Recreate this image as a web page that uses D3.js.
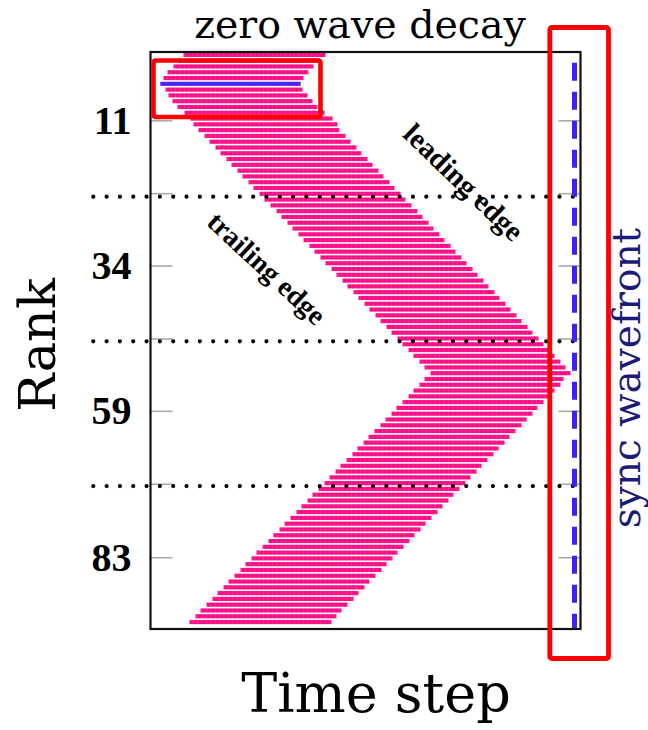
<!DOCTYPE html>
<html>
<head>
<meta charset="utf-8">
<script src="https://cdn.jsdelivr.net/npm/d3@7"></script>
<style>
  html, body { margin: 0; padding: 0; background: #ffffff; }
  svg { display: block; }
</style>
</head>
<body>
<svg id="chart" width="648" height="730"></svg>
<script>
// Per-rank wave interval (time steps), ranks 0..98
const waveStart = [
  33, 28, 23, 17, 13, 10, 15, 18, 22, 27,
  34, 40, 43, 48, 54, 59, 65, 70, 76, 81,
  87, 92, 98, 103, 109, 114, 120, 126, 131, 137,
  142, 148, 153, 159, 164, 170, 175, 181, 186, 192,
  197, 203, 208, 214, 219, 225, 230, 236, 241, 247,
  252, 258, 263, 269, 274, 280, 274, 269, 263, 258,
  252, 246, 241, 235, 230, 224, 218, 213, 207, 202,
  196, 190, 185, 179, 174, 168, 162, 157, 151, 146,
  140, 134, 129, 123, 118, 112, 106, 101, 95, 90,
  84, 78, 73, 67, 62, 56, 50, 45, 39
];
const waveEnd = [
  175, 169, 163, 158, 153, 150, 152, 157, 162, 167,
  174, 182, 187, 189, 195, 200, 206, 211, 217, 222,
  228, 233, 239, 244, 250, 255, 261, 267, 272, 278,
  283, 289, 294, 300, 305, 311, 316, 322, 327, 333,
  338, 344, 349, 355, 360, 366, 371, 377, 382, 388,
  393, 399, 404, 410, 415, 420, 413, 410, 404, 399,
  393, 387, 382, 376, 371, 365, 359, 354, 348, 343,
  337, 331, 326, 320, 315, 309, 303, 298, 292, 287,
  281, 275, 270, 264, 259, 253, 247, 242, 236, 231,
  225, 219, 214, 208, 203, 197, 191, 186, 181
];
const decayRank = 5;                       // rank whose wave does not decay
const groupBounds = [24.5, 49.5, 74.5];    // boundaries between rank groups
const minorTickRanks = [11.3, 23.9, 36.4, 49.0, 61.5, 74.1, 86.8];
const labelTickRanks = [11.3, 36.4, 61.5, 86.8];
const yTickLabels = ["11", "34", "59", "83"];
const syncStep = 424;                      // sync wavefront time step
const stepDomain = [0, 430];
const rankDomain = [-0.5, 99.2];

const svg = d3.select("#chart");

const plot = { left: 150.5, right: 580.5, top: 52, bottom: 629 };
const x = d3.scaleLinear().domain(stepDomain).range([plot.left, plot.right]);
const y = d3.scaleLinear().domain(rankDomain).range([plot.top, plot.bottom]);

const pink = "#ff0d86";
const barH = 4.2;

// faint vertical cell texture on the bars
const defs = svg.append("defs");
const pat = defs.append("pattern")
  .attr("id", "cells").attr("patternUnits", "userSpaceOnUse")
  .attr("width", 4.4).attr("height", 6);
pat.append("rect").attr("width", 4.4).attr("height", 6).attr("fill", pink);
pat.append("rect").attr("x", 3.7).attr("width", 0.7).attr("height", 6)
  .attr("fill", "#ffffff").attr("opacity", 0.16);

const ranks = d3.range(Math.min(waveStart.length, waveEnd.length));

svg.append("g").selectAll("rect")
  .data(ranks)
  .join("rect")
  .attr("x", r => x(waveStart[r]))
  .attr("y", r => y(r) - barH / 2)
  .attr("width", r => x(waveEnd[r]) - x(waveStart[r]))
  .attr("height", barH)
  .attr("fill", "url(#cells)");

// non-decaying wave rank
svg.append("rect")
  .attr("x", x(waveStart[decayRank]))
  .attr("y", y(decayRank) - 1.8)
  .attr("width", x(waveEnd[decayRank]) - x(waveStart[decayRank]))
  .attr("height", 3.6)
  .attr("fill", "#3b2bff");

// inner grey ticks, left and right
const gTickL = svg.append("g").attr("transform", `translate(${plot.left},0)`)
  .call(d3.axisRight(y).tickValues(minorTickRanks).tickSize(22).tickFormat(""));
const gTickR = svg.append("g").attr("transform", `translate(${plot.right},0)`)
  .call(d3.axisLeft(y).tickValues(minorTickRanks).tickSize(22).tickFormat(""));
[gTickL, gTickR].forEach(g => {
  g.select(".domain").remove();
  g.selectAll(".tick line").attr("stroke", "#aaaaaa").attr("stroke-width", 1.6);
});

// rank labels
const gLab = svg.append("g").attr("transform", `translate(${plot.left},0)`)
  .call(d3.axisLeft(y).tickValues(labelTickRanks).tickSize(0).tickPadding(19)
    .tickFormat((d, i) => yTickLabels[i]));
gLab.select(".domain").remove();
gLab.selectAll(".tick text")
  .attr("font-family", "'Liberation Serif', serif")
  .attr("font-weight", "bold")
  .attr("font-size", 40)
  .attr("fill", "#000");

// group boundaries (dotted)
svg.append("g").selectAll("line")
  .data(groupBounds)
  .join("line")
  .attr("x1", 93.3).attr("x2", 575)
  .attr("y1", d => y(d)).attr("y2", d => y(d))
  .attr("stroke", "#000")
  .attr("stroke-width", 4.2)
  .attr("stroke-linecap", "round")
  .attr("stroke-dasharray", "0 13.32");

// sync wavefront
svg.append("line")
  .attr("x1", x(syncStep)).attr("x2", x(syncStep))
  .attr("y1", plot.top).attr("y2", plot.bottom)
  .attr("stroke", "#3d1fff")
  .attr("stroke-width", 5)
  .attr("stroke-dasharray", "18 11")
  .attr("stroke-dashoffset", 18.3);

// frame
svg.append("rect")
  .attr("x", plot.left).attr("y", plot.top)
  .attr("width", plot.right - plot.left).attr("height", plot.bottom - plot.top)
  .attr("fill", "none").attr("stroke", "#111").attr("stroke-width", 2.2);

// edge labels
const edgeFont = "'Liberation Serif', serif";
svg.append("text")
  .attr("transform", "translate(464,182) rotate(44)")
  .attr("text-anchor", "middle").attr("dy", "0.35em")
  .attr("font-family", edgeFont).attr("font-weight", "bold").attr("font-size", 29)
  .text("leading edge");
svg.append("text")
  .attr("transform", "translate(267,268) rotate(43)")
  .attr("text-anchor", "middle").attr("dy", "0.35em")
  .attr("font-family", edgeFont).attr("font-weight", "bold").attr("font-size", 28)
  .text("trailing edge");

// highlight boxes
const red = "#ff0000";
svg.append("rect")
  .attr("x", 153.5).attr("y", 60.5).attr("width", 167).attr("height", 56.5)
  .attr("rx", 2).attr("fill", "none").attr("stroke", red).attr("stroke-width", 4.6);
svg.append("rect")
  .attr("x", 549.8).attr("y", 27.5).attr("width", 58.7).attr("height", 631)
  .attr("rx", 2).attr("fill", "none").attr("stroke", red).attr("stroke-width", 4.8);

// titles
const bigFont = "'DejaVu Serif', serif";
svg.append("text")
  .attr("x", 360).attr("y", 38).attr("text-anchor", "middle")
  .attr("font-family", bigFont).attr("font-size", 39.5).attr("fill", "#000")
  .text("zero wave decay");
svg.append("text")
  .attr("x", 376).attr("y", 712).attr("text-anchor", "middle")
  .attr("font-family", bigFont).attr("font-size", 54).attr("fill", "#000")
  .text("Time step");
svg.append("text")
  .attr("transform", "translate(55,345) rotate(-90)")
  .attr("text-anchor", "middle")
  .attr("font-family", bigFont).attr("font-size", 51).attr("fill", "#000")
  .text("Rank");
svg.append("text")
  .attr("transform", "translate(640,378) rotate(-90)")
  .attr("text-anchor", "middle")
  .attr("font-family", bigFont).attr("font-size", 39).attr("fill", "#1c1c78")
  .text("sync wavefront");
</script>
</body>
</html>
